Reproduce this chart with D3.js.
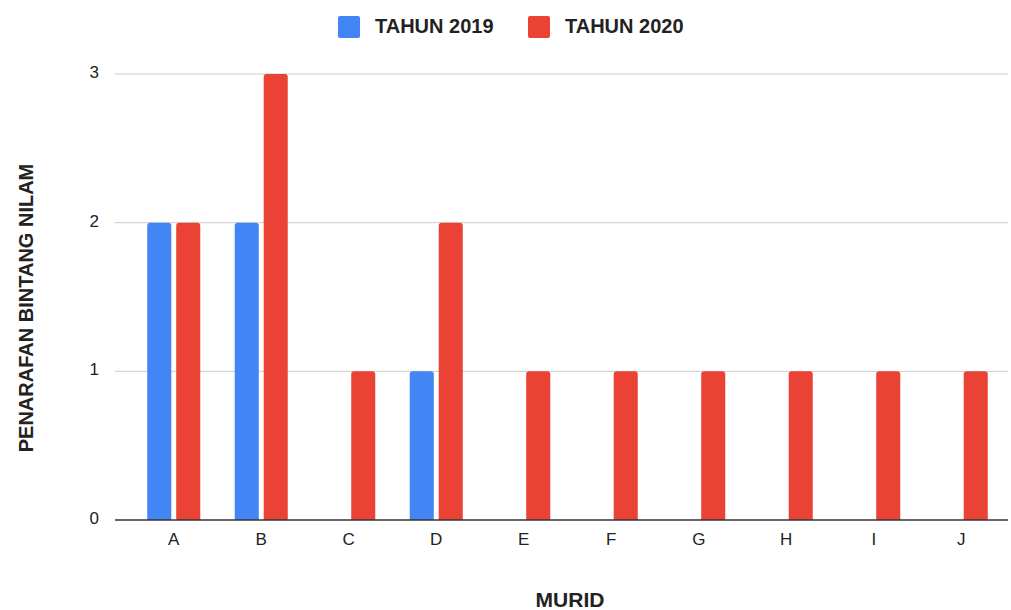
<!DOCTYPE html>
<html>
<head>
<meta charset="utf-8">
<script src="https://cdn.jsdelivr.net/npm/d3@7"></script>
<style>
  body { margin: 0; background: #fff; }
  text { font-family: "Liberation Sans", Arial, sans-serif; }
</style>
</head>
<body>
<div class="chart"></div>
<script>
var svgWidth = 1011;
var svgHeight = 610;

// chart data
var murid = ["A", "B", "C", "D", "E", "F", "G", "H", "I", "J"];
var seriesNames = ["TAHUN 2019", "TAHUN 2020"];
var tahun2019 = [2, 2, 0, 1, 0, 0, 0, 0, 0, 0];
var tahun2020 = [2, 3, 1, 2, 1, 1, 1, 1, 1, 1];
var yTicks = [0, 1, 2, 3];
var colors = ["#4285f4", "#ea4335"];

var plot = { left: 115, right: 1008, top: 74, bottom: 520 };

var svg = d3.select(".chart")
    .append("svg")
    .attr("width", svgWidth)
    .attr("height", svgHeight);

// scales
var x0 = d3.scaleBand()
    .domain(murid)
    .range([130, 1005])
    .paddingInner(0.394)
    .paddingOuter(0.197);

var x1 = d3.scaleBand()
    .domain(seriesNames)
    .range([0, x0.bandwidth()])
    .paddingInner(0.17);

var y = d3.scaleLinear()
    .domain([0, 3])
    .range([plot.bottom, plot.top]);

// gridlines
svg.append("g")
    .selectAll("line")
    .data(yTicks.filter(d => d > 0))
    .enter()
    .append("line")
    .attr("x1", plot.left)
    .attr("x2", plot.right)
    .attr("y1", d => y(d))
    .attr("y2", d => y(d))
    .attr("stroke", "#cccccc")
    .attr("stroke-width", 1);

// y axis labels
var leftAxis = d3.axisLeft(y).tickValues(yTicks).tickSize(0).tickPadding(16)
    .tickFormat(d3.format("d"));
var yAxis = svg.append("g")
    .attr("transform", `translate(${plot.left}, 0)`)
    .call(leftAxis);
yAxis.select(".domain").remove();
yAxis.selectAll("text")
    .attr("font-size", 17)
    .attr("dy", "0.2em")
    .attr("fill", "#222");

// bars
var rows = murid.map((m, i) => ({ murid: m, values: [tahun2019[i], tahun2020[i]] }));

function barPath(x, w, yTop, yBottom, r) {
    if (yBottom - yTop <= 0) return "";
    r = Math.min(r, (yBottom - yTop));
    return `M${x},${yBottom}V${yTop + r}Q${x},${yTop} ${x + r},${yTop}` +
        `H${x + w - r}Q${x + w},${yTop} ${x + w},${yTop + r}V${yBottom}Z`;
}

var groups = svg.append("g")
    .selectAll("g")
    .data(rows)
    .enter()
    .append("g")
    .attr("transform", d => `translate(${x0(d.murid)}, 0)`);

groups.selectAll("path")
    .data(d => d.values.map((v, j) => ({ key: seriesNames[j], value: v, idx: j })))
    .enter()
    .append("path")
    .attr("d", d => barPath(x1(d.key), x1.bandwidth(), y(d.value), y(0), 3))
    .attr("fill", d => colors[d.idx]);

// baseline
svg.append("line")
    .attr("x1", plot.left)
    .attr("x2", plot.right)
    .attr("y1", y(0))
    .attr("y2", y(0))
    .attr("stroke", "#333333")
    .attr("stroke-width", 1.5);

// x axis labels
var bottomAxis = d3.axisBottom(x0).tickSize(0).tickPadding(13);
var xAxis = svg.append("g")
    .attr("transform", `translate(0, ${y(0)})`)
    .call(bottomAxis);
xAxis.select(".domain").remove();
xAxis.selectAll("text")
    .attr("font-size", 17)
    .attr("fill", "#222");

// axis titles
svg.append("text")
    .attr("x", 570)
    .attr("y", 607)
    .attr("text-anchor", "middle")
    .attr("font-size", 21)
    .attr("font-weight", "bold")
    .attr("fill", "#222")
    .text("MURID");

svg.append("text")
    .attr("transform", "translate(33, 308) rotate(-90)")
    .attr("text-anchor", "middle")
    .attr("font-size", 20)
    .attr("font-weight", "bold")
    .attr("fill", "#222")
    .text("PENARAFAN BINTANG NILAM");

// legend
var legendX = [338, 528];
var legend = svg.append("g")
    .selectAll("g")
    .data(seriesNames)
    .enter()
    .append("g")
    .attr("transform", (d, i) => `translate(${legendX[i]}, 16)`);

legend.append("rect")
    .attr("width", 22)
    .attr("height", 22)
    .attr("rx", 2)
    .attr("fill", (d, i) => colors[i]);

legend.append("text")
    .attr("x", 37)
    .attr("y", 17)
    .attr("font-size", 20)
    .attr("font-weight", "bold")
    .attr("fill", "#222")
    .text(d => d);
</script>
</body>
</html>
